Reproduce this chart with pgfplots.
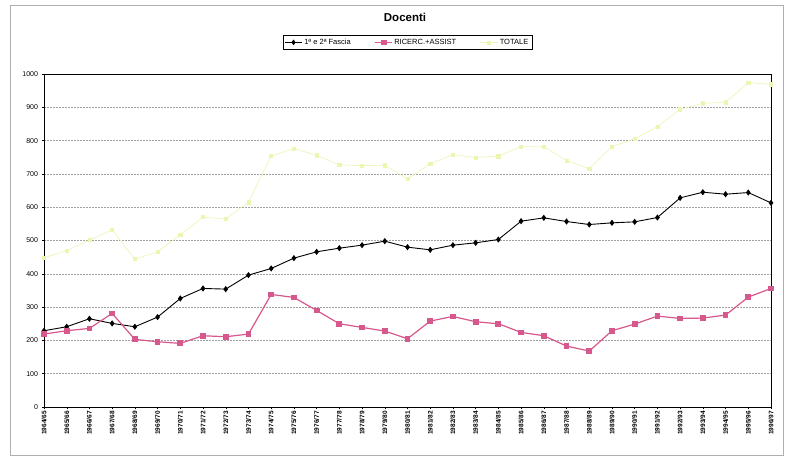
\documentclass[border=0pt]{standalone}
\usepackage{pgfplots}
\pgfplotsset{compat=1.18}
\usepackage{fontspec}
\setmainfont{Liberation Sans}

\definecolor{ricerc}{RGB}{214,88,140}
\definecolor{totale}{RGB}{238,245,178}
\definecolor{gridc}{RGB}{160,160,160}
\definecolor{framec}{RGB}{175,175,175}

\begin{document}
\begin{tikzpicture}[x=1pt,y=1pt]
\useasboundingbox (0,0) rectangle (786,457);
\fill[white] (0,0) rectangle (786,457);
\draw[framec, line width=0.8pt] (10,2) rectangle (783,452);
\node[font=\bfseries\fontsize{11.5}{13}\selectfont] at (405,440) {Docenti};
\begin{axis}[
  at={(44pt,50pt)}, anchor=south west,
  scale only axis, width=727pt, height=333pt,
  xmin=0, xmax=32, ymin=0, ymax=1000,
  xtick={0,...,32},
  xticklabels={1964/65,1965/66,1966/67,1967/68,1968/69,1969/70,1970/71,1971/72,1972/73,1973/74,1974/75,1975/76,1976/77,1977/78,1978/79,1979/80,1980/81,1981/82,1982/83,1983/84,1984/85,1985/86,1986/87,1987/88,1988/89,1989/90,1990/91,1991/92,1992/93,1993/94,1994/95,1995/96,1996/97},
  x tick label style={rotate=90, anchor=east, font=\bfseries\fontsize{6.5}{7}\selectfont, inner sep=1.5pt},
  ytick={0,100,...,1000},
  y tick label style={font=\fontsize{7}{8}\selectfont},
  /pgf/number format/assume math mode=true,
  /pgf/number format/1000 sep={},
  tick align=outside, major tick length=2.5pt,
  tick style={black, line width=0.4pt},
  xtick pos=bottom, ytick pos=left,
  ymajorgrids, major grid style={gridc, dash pattern=on 1.5pt off 1.5pt, line width=0.4pt},
  axis line style={black, line width=0.7pt},
  legend columns=3,
  legend style={at={(0.5,1)}, anchor=south, yshift=24pt, draw=black, line width=0.7pt,
    font=\fontsize{7.5}{8.5}\selectfont, inner sep=1.8pt,
    /tikz/every even column/.append style={column sep=22pt}},
  legend image post style={line width=0.5pt},
]
% 1a e 2a fascia
\addplot[black, line width=0.9pt, mark=diamond*, mark size=2.4pt] coordinates {
(0,229) (1,241) (2,265) (3,251) (4,241) (5,270) (6,326) (7,356) (8,354) (9,396)
(10,416) (11,447) (12,466) (13,477) (14,486) (15,498) (16,480) (17,472) (18,486) (19,493)
(20,503) (21,558) (22,568) (23,557) (24,548) (25,553) (26,556) (27,569) (28,628) (29,645)
(30,639) (31,644) (32,613)};
\addlegendentry{1ª e 2ª Fascia}
% ricercatori e assistenti
\addplot[ricerc, line width=1.2pt, mark=square*, mark size=2.3pt] coordinates {
(0,219) (1,229) (2,236) (3,281) (4,203) (5,196) (6,191) (7,214) (8,211) (9,219)
(10,338) (11,329) (12,290) (13,250) (14,239) (15,228) (16,205) (17,258) (18,272) (19,256)
(20,250) (21,224) (22,214) (23,183) (24,168) (25,229) (26,249) (27,273) (28,266) (29,267)
(30,276) (31,330) (32,356)};
\addlegendentry{RICERC.+ASSIST}
% totale
\addplot[totale, line width=0.6pt, mark=square*, mark size=1.6pt] coordinates {
(0,448) (1,470) (2,501) (3,532) (4,444) (5,466) (6,517) (7,570) (8,565) (9,615)
(10,754) (11,776) (12,756) (13,727) (14,725) (15,726) (16,685) (17,730) (18,758) (19,749)
(20,753) (21,782) (22,782) (23,740) (24,716) (25,782) (26,805) (27,842) (28,894) (29,912)
(30,915) (31,974) (32,969)};
\addlegendentry{TOTALE}
\end{axis}
\end{tikzpicture}
\end{document}
